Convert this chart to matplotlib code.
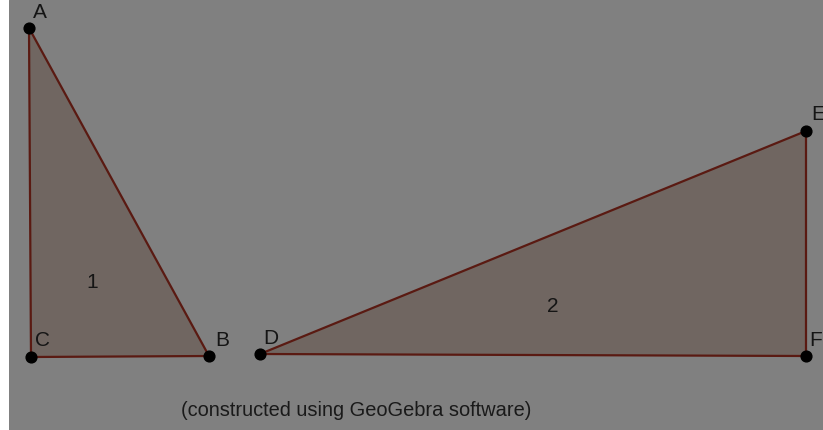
import matplotlib.pyplot as plt
from matplotlib.patches import Polygon

# vertex positions (screen units, y pointing down)
names = ['A', 'B', 'C', 'D', 'E', 'F']
xs = [29, 209, 31, 260, 806, 806]
ys = [28, 356, 357, 354, 131, 356]

# label offsets for each vertex
label_dx = [11, 13, 12, 11, 12, 10]
label_dy = [-16, -15, -16, -15, -16, -16]

triangles = [['A', 'B', 'C'], ['D', 'E', 'F']]
tri_labels = ['1', '2']
tri_label_pos = [(92, 283), (553, 307)]

bg = '#808080'
fill = '#706661'
edge = '#5a1a12'

pts = dict(zip(names, zip(xs, ys)))

fig = plt.figure(figsize=(8.23, 4.30), dpi=100)
fig.patch.set_facecolor('white')
ax = fig.add_axes([9 / 823, 0, 1 - 9 / 823, 1])
ax.set_facecolor(bg)
ax.set_xlim(9, 823)
ax.set_ylim(430, 0)
ax.axis('off')
ax.add_patch(plt.Rectangle((9, 0), 814, 430, color=bg, zorder=0))

for tri in triangles:
    coords = [pts[n] for n in tri]
    ax.add_patch(Polygon(coords, closed=True, facecolor=fill,
                         edgecolor=edge, linewidth=1.6, zorder=2))

ax.scatter(xs, ys, s=60, color='black', zorder=4)

for n, x, y, dx, dy in zip(names, xs, ys, label_dx, label_dy):
    ax.text(x + dx, y + dy, n, fontsize=15, color='#151515',
            ha='center', va='center', family='Liberation Sans', zorder=5)

for t, (x, y) in zip(tri_labels, tri_label_pos):
    ax.text(x, y, t, fontsize=15, color='#151515', ha='center', va='center',
            family='Liberation Sans', zorder=5)

ax.text(356, 411, '(constructed using GeoGebra software)', fontsize=14.4,
        color='#1a1a1a', ha='center', va='center', family='Liberation Sans')

fig.savefig('out.png', dpi=100)
